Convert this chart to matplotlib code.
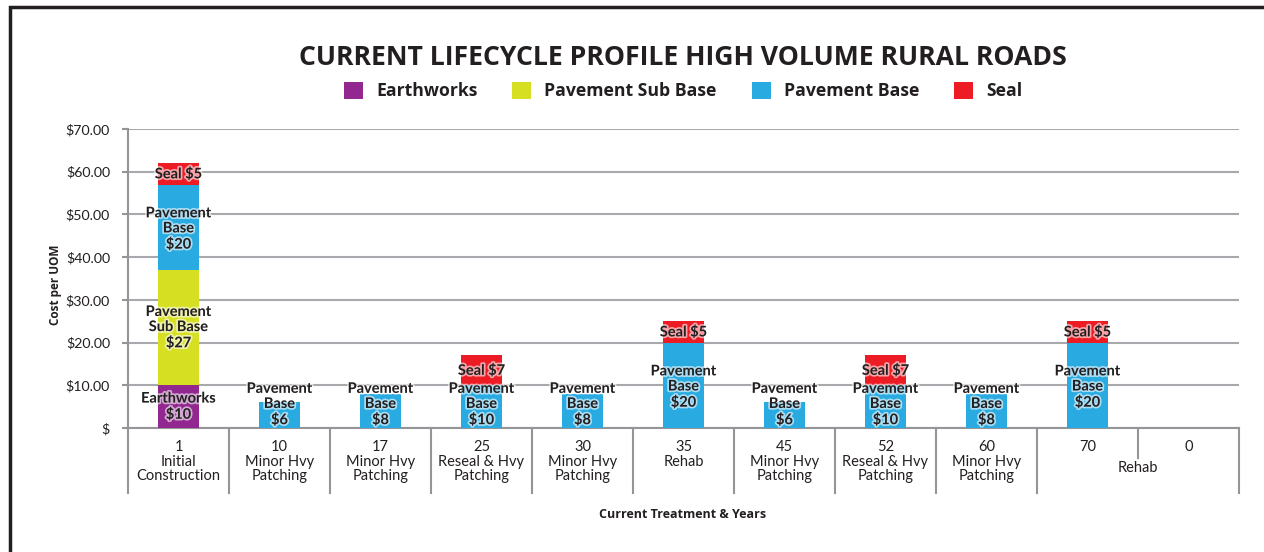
import matplotlib
matplotlib.use("Agg")
import numpy as np
import matplotlib.pyplot as plt
import matplotlib.patheffects as pe
from matplotlib.patches import Rectangle
from matplotlib.transforms import blended_transform_factory

# Chart data
years = ["1", "10", "17", "25", "30", "35", "45", "52", "60", "70", "0"]
treatments = ["Initial\nConstruction", "Minor Hvy\nPatching", "Minor Hvy\nPatching",
              "Reseal & Hvy\nPatching", "Minor Hvy\nPatching", "Rehab",
              "Minor Hvy\nPatching", "Reseal & Hvy\nPatching", "Minor Hvy\nPatching"]
group_label = "Rehab"   # spans the last two categories (70 and 0)

series_names = ["Earthworks", "Pavement Sub Base", "Pavement Base", "Seal"]
seg_labels = ["Earthworks\n", "Pavement\nSub Base\n", "Pavement\nBase\n", "Seal "]
earthworks = [10, 0, 0, 0, 0, 0, 0, 0, 0, 0, 0]
sub_base = [27, 0, 0, 0, 0, 0, 0, 0, 0, 0, 0]
base = [20, 6, 8, 10, 8, 20, 6, 10, 8, 20, 0]
seal = [5, 0, 0, 7, 0, 5, 0, 7, 0, 5, 0]

y_ticks = [0, 10, 20, 30, 40, 50, 60, 70]
y_tick_labels = ["$", "$10.00", "$20.00", "$30.00", "$40.00", "$50.00", "$60.00", "$70.00"]

colors = ["#92278F", "#D7DF23", "#29ABE2", "#ED1C24"]
TXT = "#231F20"
GRID = "#A7A9AC"
SEP = "#939598"
NARROW = ["Lato", "DejaVu Sans"]
BOLD = ["Open Sans", "DejaVu Sans"]

W, H = 1264, 552
fig = plt.figure(figsize=(W / 100, H / 100), dpi=100)
ax = fig.add_axes([128 / W, (H - 428) / H, (1239 - 128) / W, (428 - 129) / H])

x = np.arange(len(years))
stack = [earthworks, sub_base, base, seal]
bottom = np.zeros(len(years))
glow = [pe.withStroke(linewidth=2.5, foreground="white", alpha=0.6)]
for vals, name, lab, col in zip(stack, series_names, seg_labels, colors):
    vals = np.array(vals, dtype=float)
    ax.bar(x, vals, bottom=bottom, width=0.41, color=col, label=name, zorder=3)
    for xi, v, b in zip(x, vals, bottom):
        if v <= 0:
            continue
        mid = b + v / 2
        if lab.startswith("Pavement\nBase"):
            mid = max(mid - 0.4, 5.5)
        ax.text(xi, mid, f"{lab}${int(v)}", ha="center", va="center",
                fontsize=10.5, fontweight="bold", family=NARROW, color=TXT,
                linespacing=1.1, zorder=5, path_effects=glow)
    bottom += vals

ax.set_xlim(-0.5, len(years) - 0.5)
ax.set_ylim(0, 70)
ax.set_yticks(y_ticks)
ax.set_yticklabels(y_tick_labels, family=NARROW, fontsize=10.2, color=TXT)
ax.tick_params(axis="y", length=4, width=1.5, color=SEP, pad=9)
ax.set_xticks([])
ax.grid(axis="y", color=GRID, linewidth=1.5, zorder=0)
for s in ["top", "right"]:
    ax.spines[s].set_visible(False)
ax.spines["left"].set_color(SEP)
ax.spines["left"].set_linewidth(1.5)
ax.spines["bottom"].set_color(SEP)
ax.spines["bottom"].set_linewidth(1.5)

# category labels and separators below the axis
tr = blended_transform_factory(ax.transData, ax.transAxes)
px = 1 / (428 - 129)   # one pixel in axes-y units
for i in range(len(years) + 1):
    low = -(458 - 428) * px if i == len(years) - 1 else -(493 - 428) * px
    ax.plot([i - 0.5, i - 0.5], [0, low], color=SEP, lw=1.5, transform=tr, clip_on=False)
for i, yr in enumerate(years):
    ax.text(i, -(447 - 428) * px, yr, ha="center", va="center", fontsize=10.5,
            family=NARROW, color=TXT, transform=tr)
for i, t in enumerate(treatments):
    ax.text(i, -(455 - 428) * px, t, ha="center", va="top", fontsize=10.5,
            family=NARROW, color=TXT, linespacing=1.03, transform=tr)
ax.text(len(years) - 1.5, -(468 - 428) * px, group_label, ha="center", va="center",
        fontsize=10.5, family=NARROW, color=TXT, transform=tr)

fig.text(683 / W, (H - 514) / H, "Current Treatment & Years", ha="center", va="center",
         fontsize=9, fontweight="bold", family=BOLD, color=TXT)
fig.text(55 / W, (H - 285) / H, "Cost per UOM", ha="center", va="center", rotation=90,
         fontsize=8.5, fontweight="bold", family=BOLD, color=TXT)

fig.text(683 / W, (H - 58) / H, "CURRENT LIFECYCLE PROFILE HIGH VOLUME RURAL ROADS",
         ha="center", va="center", fontsize=19.2, fontweight="bold", family=BOLD, color=TXT)

leg = ax.legend(loc="center", bbox_to_anchor=(683 / W, (H - 91) / H),
                bbox_transform=fig.transFigure, ncol=4, frameon=False,
                prop={"family": BOLD, "weight": "bold", "size": 12.7},
                handlelength=1.08, handleheight=1.08, handletextpad=0.74,
                columnspacing=1.98)
for t in leg.get_texts():
    t.set_color(TXT)

# outer frame (only top and left edges fall inside the picture)
fig.patches.append(Rectangle((10 / W, -0.5), 2, (H - 7) / H + 0.5, fill=False,
                             edgecolor=TXT, linewidth=2.5, transform=fig.transFigure))

fig.savefig("out.png", dpi=100)
